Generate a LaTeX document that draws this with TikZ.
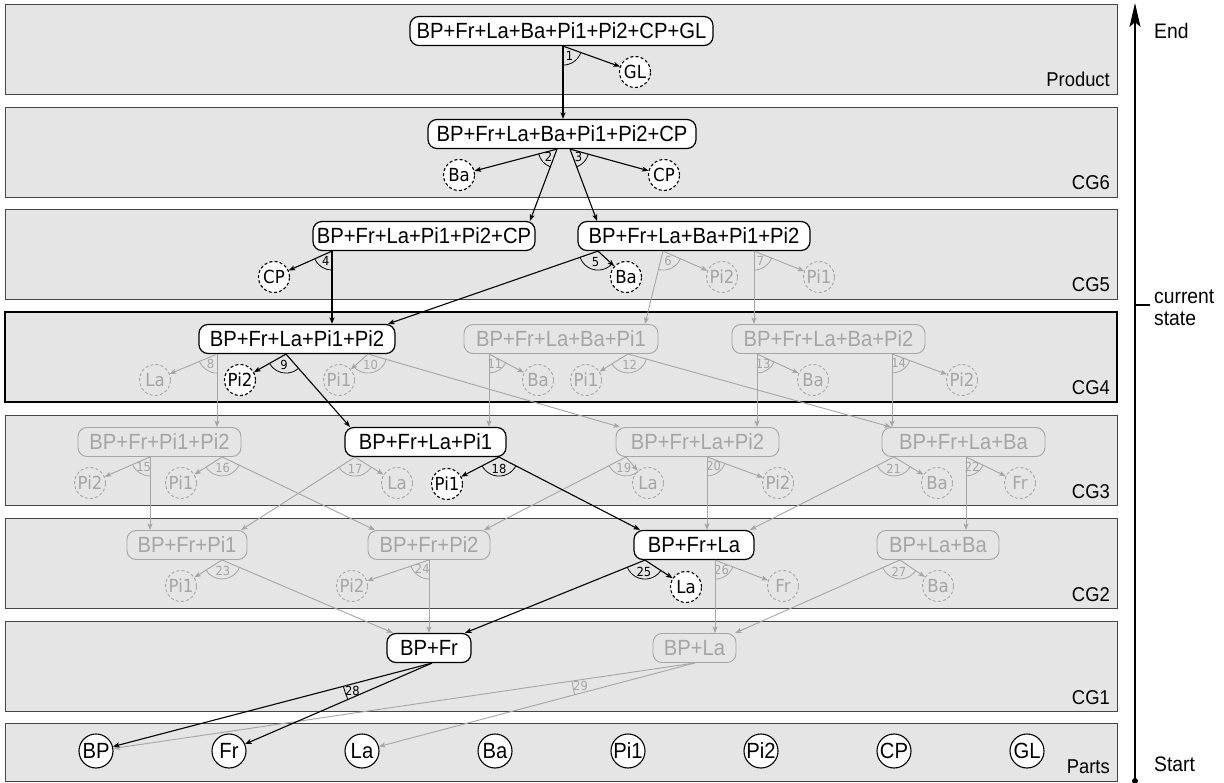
\documentclass[tikz,border=0pt]{standalone}
\usepackage{fontspec}
\setmainfont{Liberation Sans}[FakeStretch=0.92]
\newfontfamily\dvs{DejaVu Sans}[FakeStretch=0.92]
\usetikzlibrary{calc,arrows.meta}
\definecolor{bandfill}{RGB}{229,229,229}
\definecolor{bandline}{RGB}{70,70,70}
\definecolor{gel}{RGB}{165,165,165}
\tikzset{
  band/.style={draw=bandline,fill=bandfill,line width=0.9pt},
  curband/.style={draw=black,fill=bandfill,line width=2.2pt},
  sub/.style={draw=black,rounded corners=9pt,minimum height=29pt,inner xsep=3pt,inner ysep=0pt,
    font=\fontsize{22}{26}\selectfont,line width=1.2pt,fill=white},
  gsub/.style={sub,draw=gel,text=gel,fill=none,line width=0.9pt},
  rem/.style={circle,draw=black,dash pattern=on 3pt off 2.2pt,minimum size=31pt,inner sep=0pt,fill=white,
    font=\dvs\fontsize{18}{20}\selectfont,line width=1.1pt},
  grem/.style={rem,draw=gel,text=gel,fill=none,line width=0.9pt},
  part/.style={circle,draw=black,minimum size=34pt,inner sep=0pt,fill=white,
    font=\fontsize{22}{26}\selectfont,line width=1.1pt},
  blk/.style={color=black,line width=1.1pt},
  gry/.style={color=gel,line width=0.9pt},
  arr/.style={-{Stealth[length=6.5pt,width=5pt,inset=1.5pt]}},
  num/.style={font=\dvs\fontsize{12.5}{14}\selectfont,inner sep=0pt},
  lvl/.style={anchor=base east,font=\fontsize{20}{22}\selectfont,inner sep=0pt},
  side/.style={anchor=west,font=\fontsize{21}{22}\selectfont,inner sep=0pt,align=left}
}
\newcommand\hedge[5]{%
  \draw[#1,arr] (#3) -- (#4);
  \draw[#1,arr] (#3) -- (#5);
  \draw[#1,line width=0.8pt] let \p1=($(#4)-(#3)$), \p2=($(#5)-(#3)$),
    \n1={atan2(\y1,\x1)}, \n2={atan2(\y2,\x2)},
    \n3={max(19pt,802pt/abs(\n2-(\n1)))}, \n4={\n3-7.5pt}, \n5={(\n1+\n2)/2} in
    ($(#3)+(\n1:\n3)$) arc[start angle=\n1,end angle=\n2,radius=\n3]
    ($(#3)+(\n5:\n4)$) node[num]{#2};
}
\begin{document}
\begin{tikzpicture}[x=1pt,y=-1pt]
\useasboundingbox (0,0) rectangle (1224,783);
% bands
\path[band] (5,4) rectangle (1117,94);
\path[band] (5,107) rectangle (1117,197);
\path[band] (5,209) rectangle (1117,299);
\path[band] (5,415) rectangle (1117,505);
\path[band] (5,518) rectangle (1117,608);
\path[band] (5,621) rectangle (1117,711);
\path[band] (5,723) rectangle (1117,781);
\path[curband] (5,312) rectangle (1117,402);
\node[lvl] (lP) at (1110,87) {Product};
\node[lvl] (l6) at (1110,190) {CG6};
\node[lvl] (l5) at (1110,292) {CG5};
\node[lvl] (l4) at (1110,395) {CG4};
\node[lvl] (l3) at (1110,498) {CG3};
\node[lvl] (l2) at (1110,601) {CG2};
\node[lvl] (l1) at (1110,704) {CG1};
\node[lvl] (l0) at (1110,773) {Parts};
% axis
\coordinate (axbot) at (1135,781);
\coordinate (axtop) at (1135,3);
\coordinate (tk1) at (1135,305);
\coordinate (tk2) at (1150,305);
\draw[line width=1.5pt,-{Stealth[length=24pt,width=11pt,inset=5pt]}] (axbot) -- (axtop);
\fill (axbot) circle (3pt);
\draw[line width=1.1pt] (tk1) -- (tk2);
\node[side] (tEnd) at (1154,31) {End};
\node[side] (tCur) at (1154,308) {current\\state};
\node[side] (tStart) at (1154,764) {Start};
% subassembly nodes
\node[sub,minimum width=303pt] (P0) at (561.5,31) {BP+Fr+La+Ba+Pi1+Pi2+CP+GL};
\node[sub,minimum width=268pt] (S6) at (562,134) {BP+Fr+La+Ba+Pi1+Pi2+CP};
\node[sub,minimum width=222pt] (S5a) at (424,236) {BP+Fr+La+Pi1+Pi2+CP};
\node[sub,minimum width=232pt] (S5b) at (694,236) {BP+Fr+La+Ba+Pi1+Pi2};
\node[sub,minimum width=196pt] (S4a) at (297,339) {BP+Fr+La+Pi1+Pi2};
\node[gsub,minimum width=194pt] (S4b) at (561,339) {BP+Fr+La+Ba+Pi1};
\node[gsub,minimum width=193pt] (S4c) at (828.5,339) {BP+Fr+La+Ba+Pi2};
\node[gsub,minimum width=163pt] (S3a) at (159.5,442) {BP+Fr+Pi1+Pi2};
\node[sub,minimum width=161pt] (S3b) at (425.5,442) {BP+Fr+La+Pi1};
\node[gsub,minimum width=163pt] (S3c) at (697.5,442) {BP+Fr+La+Pi2};
\node[gsub,minimum width=163pt] (S3d) at (963.5,442) {BP+Fr+La+Ba};
\node[gsub,minimum width=120pt] (S2a) at (187,545) {BP+Fr+Pi1};
\node[gsub,minimum width=122pt] (S2b) at (429,545) {BP+Fr+Pi2};
\node[sub,minimum width=120pt] (S2c) at (694,545) {BP+Fr+La};
\node[gsub,minimum width=122pt] (S2d) at (938,545) {BP+La+Ba};
\node[sub,minimum width=84pt] (S1a) at (429,648) {BP+Fr};
\node[gsub,minimum width=83pt] (S1b) at (694.5,648) {BP+La};
% removed parts
\node[rem] (r1) at (635,72) {GL};
\node[rem] (r2) at (459,175) {Ba};
\node[rem] (r3) at (664,175) {CP};
\node[rem] (r4) at (274,277) {CP};
\node[rem] (r5) at (626,277) {Ba};
\node[grem] (r6) at (722,277) {Pi2};
\node[grem] (r7) at (819,277) {Pi1};
\node[grem] (r8) at (155,380) {La};
\node[rem] (r9) at (240,380) {Pi2};
\node[grem] (r10) at (339,380) {Pi1};
\node[grem] (r11) at (538,380) {Ba};
\node[grem] (r12) at (586,380) {Pi1};
\node[grem] (r13) at (813,380) {Ba};
\node[grem] (r14) at (962,380) {Pi2};
\node[grem] (r15) at (90,483) {Pi2};
\node[grem] (r16) at (181,483) {Pi1};
\node[grem] (r17) at (397,483) {La};
\node[rem] (r18) at (447,484) {Pi1};
\node[grem] (r19) at (648,483) {La};
\node[grem] (r20) at (778,483) {Pi2};
\node[grem] (r21) at (937,483) {Ba};
\node[grem] (r22) at (1020,483) {Fr};
\node[grem] (r23) at (181,586) {Pi1};
\node[grem] (r24) at (352,586) {Pi2};
\node[rem] (r25) at (686,587) {La};
\node[grem] (r26) at (783,586) {Fr};
\node[grem] (r27) at (938,586) {Ba};
% parts
\node[part] (pBP) at (96,751) {BP};
\node[part] (pFr) at (229,751) {Fr};
\node[part] (pLa) at (362,751) {La};
\node[part] (pBa) at (495,751) {Ba};
\node[part] (pPi1) at (628,751) {Pi1};
\node[part] (pPi2) at (761,751) {Pi2};
\node[part] (pCP) at (894,751) {CP};
\node[part] (pGL) at (1027,751) {GL};
% origins and targets
\coordinate (o1) at (P0.south -| 563,0);   \coordinate (t1) at (S6.north -| 563,0);
\coordinate (o2) at (S6.south -| 557,0);   \coordinate (t2) at (S5a.north -| 530,0);
\coordinate (o3) at (S6.south -| 570,0);   \coordinate (t3) at (S5b.north -| 597,0);
\coordinate (o4) at (S5a.south -| 332,0);  \coordinate (t4) at (S4a.north -| 332,0);
\coordinate (o5) at (S5b.south -| 598,0);  \coordinate (t5) at (S4a.north -| 388,0);
\coordinate (o6) at (S5b.south -| 663,0);  \coordinate (t6) at (S4b.north -| 645,0);
\coordinate (o7) at (S5b.south -| 754,0);  \coordinate (t7) at (S4c.north -| 754,0);
\coordinate (o8) at (S4a.south -| 217,0);  \coordinate (t8) at (S3a.north -| 217,0);
\coordinate (o9) at (S4a.south -| 286,0);  \coordinate (t9) at (S3b.north -| 350,0);
\coordinate (o10) at (S4a.south -| 368,0); \coordinate (t10) at (S3c.north -| 620,0);
\coordinate (o11) at (S4b.south -| 489,0); \coordinate (t11) at (S3b.north -| 489,0);
\coordinate (o12) at (S4b.south -| 628,0); \coordinate (t12) at (S3d.north -| 891,0);
\coordinate (o13) at (S4c.south -| 757,0); \coordinate (t13) at (S3c.north -| 757,0);
\coordinate (o14) at (S4c.south -| 892,0); \coordinate (t14) at (S3d.north -| 892,0);
\coordinate (o15) at (S3a.south -| 150,0); \coordinate (t15) at (S2a.north -| 150,0);
\coordinate (o16) at (S3a.south -| 222,0); \coordinate (t16) at (S2b.north -| 375,0);
\coordinate (o17) at (S3b.south -| 355,0); \coordinate (t17) at (S2a.north -| 241,0);
\coordinate (o18) at (S3b.south -| 499,0); \coordinate (t18) at (S2c.north -| 640,0);
\coordinate (o19) at (S3c.south -| 626,0); \coordinate (t19) at (S2b.north -| 484,0);
\coordinate (o20) at (S3c.south -| 707,0); \coordinate (t20) at (S2c.north -| 707,0);
\coordinate (o21) at (S3d.south -| 894,0); \coordinate (t21) at (S2c.north -| 750,0);
\coordinate (o22) at (S3d.south -| 966,0); \coordinate (t22) at (S2d.north -| 966,0);
\coordinate (o23) at (S2a.south -| 222,0); \coordinate (t23) at (S1a.north -| 393,0);
\coordinate (o24) at (S2b.south -| 429,0); \coordinate (t24) at (S1a.north -| 429,0);
\coordinate (o25) at (S2c.south -| 645,0); \coordinate (t25) at (S1a.north -| 465,0);
\coordinate (o26) at (S2c.south -| 715,0); \coordinate (t26) at (S1b.north -| 715,0);
\coordinate (o27) at (S2d.south -| 900,0); \coordinate (t27) at (S1b.north -| 735,0);
\coordinate (o28) at (S1a.south -| 432,0);
\coordinate (o29) at (S1b.south -| 695,0);
% gray hyperedges
\hedge{gry}{6}{o6}{r6}{t6}
\hedge{gry}{7}{o7}{r7}{t7}
\hedge{gry}{8}{o8}{r8}{t8}
\hedge{gry}{10}{o10}{r10}{t10}
\hedge{gry}{11}{o11}{r11}{t11}
\hedge{gry}{12}{o12}{r12}{t12}
\hedge{gry}{13}{o13}{r13}{t13}
\hedge{gry}{14}{o14}{r14}{t14}
\hedge{gry}{15}{o15}{r15}{t15}
\hedge{gry}{16}{o16}{r16}{t16}
\hedge{gry}{17}{o17}{r17}{t17}
\hedge{gry}{19}{o19}{r19}{t19}
\hedge{gry}{20}{o20}{r20}{t20}
\hedge{gry}{21}{o21}{r21}{t21}
\hedge{gry}{22}{o22}{r22}{t22}
\hedge{gry}{23}{o23}{r23}{t23}
\hedge{gry}{24}{o24}{r24}{t24}
\hedge{gry}{26}{o26}{r26}{t26}
\hedge{gry}{27}{o27}{r27}{t27}
\hedge{gry}{29}{o29}{pBP}{pLa}
% black hyperedges
\hedge{blk}{1}{o1}{r1}{t1}
\hedge{blk}{2}{o2}{r2}{t2}
\hedge{blk}{3}{o3}{r3}{t3}
\hedge{blk}{4}{o4}{r4}{t4}
\hedge{blk}{5}{o5}{r5}{t5}
\hedge{blk}{9}{o9}{r9}{t9}
\hedge{blk}{18}{o18}{r18}{t18}
\hedge{blk}{25}{o25}{r25}{t25}
\hedge{blk}{28}{o28}{pBP}{pFr}
\end{tikzpicture}
\end{document}
